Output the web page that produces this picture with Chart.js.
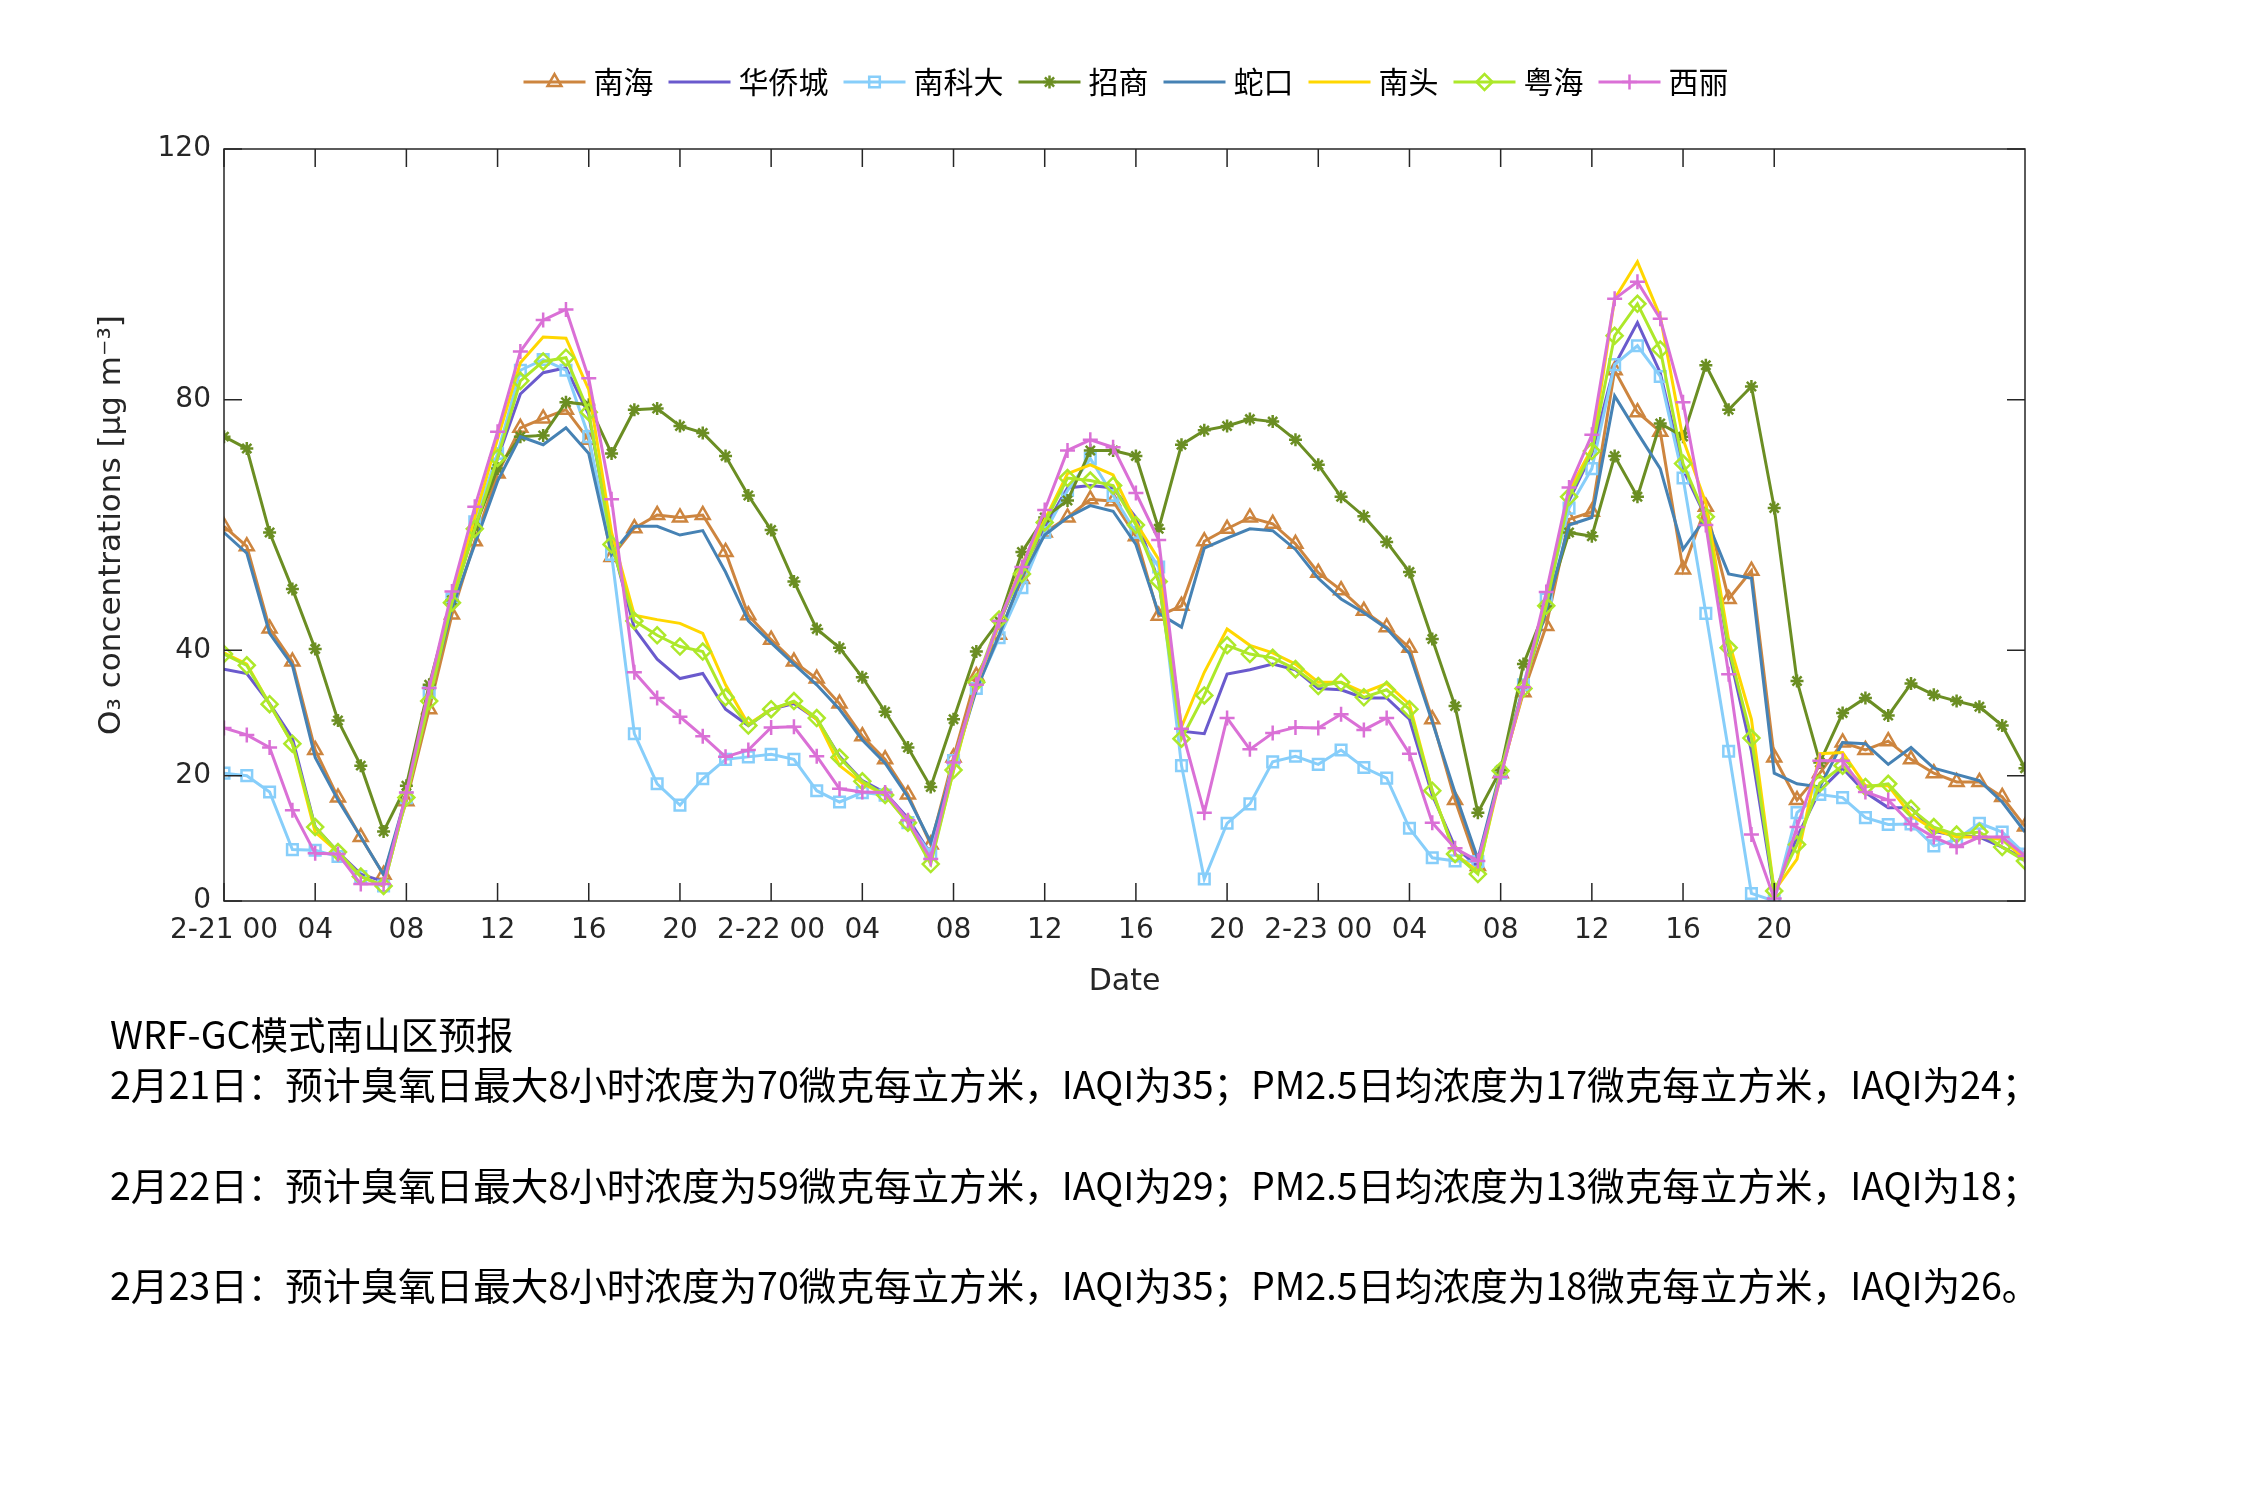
<!DOCTYPE html>
<html>
<head>
<meta charset="utf-8">
<script src="https://cdn.jsdelivr.net/npm/chart.js@4.4.1/dist/chart.umd.min.js"></script>
<style>
  body { margin: 0; background: #fff; }
  #wrap { position: relative; width: 2250px; height: 1500px; }
  #notes div {
    position: absolute; left: 110px; white-space: nowrap;
    font-family: "Noto Sans CJK SC", sans-serif; font-size: 37.6px; line-height: 42px; color: #000;
  }
</style>
</head>
<body>
<div id="wrap">
  <canvas id="o3Chart" width="2250" height="1500"></canvas>
  <div id="notes">
    <div style="top:1012px">WRF-GC模式南山区预报</div>
    <div style="top:1062px">2月21日：预计臭氧日最大8小时浓度为70微克每立方米，IAQI为35；PM2.5日均浓度为17微克每立方米，IAQI为24；</div>
    <div style="top:1163px">2月22日：预计臭氧日最大8小时浓度为59微克每立方米，IAQI为29；PM2.5日均浓度为13微克每立方米，IAQI为18；</div>
    <div style="top:1263px">2月23日：预计臭氧日最大8小时浓度为70微克每立方米，IAQI为35；PM2.5日均浓度为18微克每立方米，IAQI为26。</div>
  </div>
</div>
<script>
// 逐小时预报, 从 2-21 00 开始 (共80小时)
const hours = Array.from({length: 80}, (_, i) => i);

const nanhai = [59.8, 56.6, 43.5, 38.2, 24.1, 16.5, 10.2, 4.2, 15.9, 30.6, 45.7, 57.4, 68.2, 75.5,
  77, 78.4, 73.6, 54.9, 59.5, 61.6, 61.2, 61.6, 55.7, 45.6, 41.7, 38.2, 35.5, 31.5,
  26.3, 22.6, 17, 9, 22.9, 35.9, 42.5, 51.4, 58.8, 61.2, 64.1, 63.8, 58.2,
  45.5, 47.1, 57.4, 59.4, 61.2, 60.2, 57, 52.4, 49.6, 46.3, 43.7, 40.4, 29, 16.1,
  5.6, 20.4, 33.3, 43.9, 60.9, 62.1, 84.7, 78, 74.9, 52.9, 62.9, 48.2, 52.7, 22.9,
  16.1, 20.4, 25.3, 24.1, 25.5, 22.6, 20.4, 19, 19, 16.6, 11.9];
const huaqiaocheng = [37, 36.3, 31.5, 26, 11.8, 7.8, 4.3, 3.1, 16.9, 33.3, 47.8, 59.6, 70.6, 80.9,
  84.3, 85.1, 77.6, 57.3, 43.5, 38.6, 35.5, 36.3, 30.6, 28, 30.6, 31.5, 29, 23.1,
  19.2, 17.3, 13.2, 7.5, 22, 34.5, 44.3, 52.9, 59.6, 65.9, 66.3, 65.9, 61.2,
  51, 27.1, 26.7, 36.2, 36.9, 37.8, 36.9, 33.9, 33.7, 32.4, 32.4, 29, 16.9, 8.6,
  5.5, 20.4, 34.1, 47.8, 63.9, 71.4, 85.5, 92.3, 84.3, 68.9, 61.2, 40, 23.9, 1.2,
  10.2, 17.6, 21.2, 17.3, 14.9, 14.9, 11.1, 10.4, 10.2, 8.6, 6.7];
const nankeda = [20.4, 20, 17.4, 8.2, 8.1, 7.1, 3.9, 2.4, 16.5, 33.3, 48.2, 60.5, 71.4, 84.7,
  86.4, 84.7, 74.1, 55.3, 26.7, 18.7, 15.3, 19.5, 22.6, 23, 23.4, 22.6, 17.6, 15.8,
  17.3, 16.9, 12.5, 7.5, 22.4, 33.9, 42, 50, 58.8, 65.5, 70.6, 64.7, 58.8,
  53.3, 21.6, 3.5, 12.4, 15.5, 22.2, 23.1, 21.8, 24.1, 21.3, 19.6, 11.6, 6.9, 6.4,
  6.3, 20.4, 34.5, 48.2, 62.7, 69, 85.6, 88.6, 83.7, 67.5, 45.9, 23.9, 1.2, 0,
  14.1, 17, 16.5, 13.3, 12.2, 12.3, 8.8, 9.8, 12.4, 11, 7.5];
const zhaoshang = [74.1, 72.2, 58.8, 49.8, 40.2, 28.8, 21.6, 11.1, 18.4, 34.5, 48, 59.6, 69, 74.1,
  74.3, 79.6, 79.2, 71.4, 78.4, 78.6, 75.8, 74.7, 71, 64.7, 59.2, 51, 43.4, 40.4,
  35.7, 30.2, 24.5, 18.2, 29, 39.8, 44.7, 55.7, 61.2, 63.9, 71.9, 71.9, 71,
  59.4, 72.8, 75.1, 75.8, 76.9, 76.5, 73.6, 69.6, 64.5, 61.4, 57.3, 52.5, 41.8, 31.1,
  14.1, 20.9, 37.8, 47, 58.8, 58.2, 71, 64.5, 76.2, 74.1, 85.5, 78.4, 82.1, 62.7,
  35.1, 22.1, 30, 32.4, 29.6, 34.7, 32.9, 31.9, 31, 28, 21.2];
const shekou = [58.8, 55.5, 42.7, 37.6, 22.9, 16.1, 10.2, 4.2, 16.9, 32.5, 46.7, 56.9, 67, 74.1,
  72.8, 75.5, 71.4, 55.3, 59.8, 59.8, 58.4, 59.1, 52.5, 44.7, 41.2, 37.8, 34.5, 30.6,
  25.7, 22, 16.6, 9.4, 21.6, 33.7, 42.4, 51.8, 58.4, 61.2, 63.1, 62.2, 56.9,
  45.9, 43.7, 56.3, 57.9, 59.4, 59.1, 56.1, 51.5, 48.2, 46, 43.5, 39.5, 28.6, 17.3,
  6.7, 20.8, 34.1, 46.4, 60, 61.2, 80.6, 74.7, 69, 56.1, 61.2, 52.2, 51.5, 20.4,
  18.7, 18.2, 25.3, 25.1, 21.8, 24.5, 21.2, 20.2, 19.2, 15.8, 11];
const nantou = [39.6, 37.8, 31.4, 25.1, 11, 7.8, 3.9, 2.4, 16.5, 32.5, 48.2, 61.2, 73.7, 85.9,
  90, 89.8, 81.6, 58.8, 45.6, 44.9, 44.3, 42.7, 34.5, 28.2, 30.6, 31.8, 29, 21.6,
  18.8, 16.9, 12.5, 6.3, 20.8, 34.5, 44.3, 53.7, 60.8, 68.2, 69.6, 68, 60.4,
  54.5, 27.8, 36.5, 43.4, 40.8, 39.6, 37.8, 34.9, 34.9, 33.3, 34.7, 31.4, 17.6, 7.5,
  4.7, 20, 33.7, 47.5, 65.5, 72.2, 96.1, 102, 93.3, 73.7, 63.5, 41.6, 29, 1.6,
  6.7, 23.5, 23.7, 18.4, 18.4, 13.7, 11.4, 10.2, 10.2, 9.8, 6.7];
const yuehai = [39.4, 37.6, 31.4, 25.1, 11.8, 7.8, 3.9, 2.4, 16.5, 31.9, 47.6, 59.4, 70.7, 83,
  86.1, 86.7, 78, 56.9, 44.7, 42.4, 40.6, 39.8, 32.5, 28, 30.6, 31.9, 29.2, 22.9,
  19.1, 16.9, 12.5, 5.9, 20.9, 34.9, 44.9, 52.2, 60.4, 67.5, 67.1, 66.3, 60,
  51, 25.9, 32.8, 40.8, 39.4, 38.8, 37, 34.3, 34.9, 32.5, 33.7, 30.6, 17.6, 7.5,
  4.3, 20.8, 33.9, 47.1, 64.5, 71.8, 90.2, 95.3, 88, 69.8, 61.3, 40.4, 26, 1.6,
  9, 18.8, 21.6, 18.2, 18.7, 14.7, 11.8, 10.6, 11, 8.6, 6.4];
const xili = [27.6, 26.5, 24.5, 14.5, 7.6, 7.5, 2.7, 2.7, 17.3, 34, 49.4, 62.9, 74.9, 87.7,
  92.7, 94.4, 83.4, 64.1, 36.5, 32.4, 29.4, 26.3, 23, 24.1, 27.7, 27.8, 23.1, 17.9,
  17.4, 17.3, 12.9, 6.7, 22.1, 34.5, 44.7, 53.3, 62.4, 71.9, 73.6, 72.4, 65.1,
  57.6, 27.5, 14.1, 29.2, 24.2, 26.8, 27.7, 27.6, 29.8, 27.3, 29.2, 23.5, 12.5, 8.4,
  6.4, 19.8, 34.1, 49.3, 66, 74.4, 96.1, 98.8, 92.9, 79.6, 60, 36.2, 10.6, 0.4,
  11.8, 22.4, 22.4, 17.4, 16.1, 12.3, 10.2, 8.6, 10.2, 10.2, 7.2];

const xTickHours = [0, 4, 8, 12, 16, 20, 24, 28, 32, 36, 40, 44, 48, 52, 56, 60, 64, 68];
const xTickLabels = ['2-21 00', '04', '08', '12', '16', '20', '2-22 00', '04', '08', '12', '16', '20',
  '2-23 00', '04', '08', '12', '16', '20'];
const yTickValues = [0, 20, 40, 80, 120];

const axisColor = '#262626';
const baseFont = '"DejaVu Sans", "Noto Sans CJK SC", sans-serif';

function makeSeries(label, values, color, style, radius, order) {
    return {
        label: label,
        data: values.map((v, i) => ({x: hours[i], y: v})),
        borderColor: color,
        backgroundColor: 'rgba(0,0,0,0)',
        borderWidth: 3,
        pointStyle: style || 'circle',
        pointRadius: style ? radius : 0,
        pointBorderWidth: 2.5,
        pointBackgroundColor: 'rgba(0,0,0,0)',
        pointBorderColor: color,
        tension: 0,
        order: order
    };
}

// legenda desenhada à mão, no estilo do MATLAB
const legendPlugin = {
    id: 'topLegend',
    afterDraw(chart) {
        const ctx = chart.ctx;
        ctx.save();
        ctx.font = '30px "Noto Sans CJK SC"';
        ctx.textBaseline = 'middle';
        const lineLen = 62, gapText = 8, gapItem = 15, y = 82;
        const sets = chart.data.datasets;
        const widths = sets.map(ds => ctx.measureText(ds.label).width);
        let total = 0;
        widths.forEach(w => { total += lineLen + gapText + w + gapItem; });
        total -= gapItem;
        let x = 1126 - total / 2;
        sets.forEach((ds, i) => {
            ctx.strokeStyle = ds.borderColor;
            ctx.lineWidth = 3;
            ctx.beginPath();
            ctx.moveTo(x, y);
            ctx.lineTo(x + lineLen, y);
            ctx.stroke();
            if (ds.pointRadius > 0) {
                ctx.fillStyle = 'rgba(0,0,0,0)';
                ctx.lineWidth = ds.pointBorderWidth;
                Chart.helpers.drawPoint(ctx, {
                    pointStyle: ds.pointStyle, rotation: 0,
                    radius: ds.pointRadius, borderWidth: ds.pointBorderWidth
                }, x + lineLen / 2, y);
            }
            ctx.fillStyle = '#000';
            ctx.fillText(ds.label, x + lineLen + gapText, y);
            x += lineLen + gapText + widths[i] + gapItem;
        });
        ctx.restore();
    }
};

// caixa dos eixos com marcas para dentro
const boxPlugin = {
    id: 'boxTicks',
    afterDraw(chart) {
        const ctx = chart.ctx;
        const a = chart.chartArea;
        const xs = chart.scales.x, ys = chart.scales.y;
        const len = 18;
        ctx.save();
        ctx.strokeStyle = axisColor;
        ctx.lineWidth = 1.5;
        ctx.strokeRect(a.left, a.top, a.right - a.left, a.bottom - a.top);
        ctx.beginPath();
        xTickHours.forEach(v => {
            const px = xs.getPixelForValue(v);
            ctx.moveTo(px, a.bottom); ctx.lineTo(px, a.bottom - len);
            ctx.moveTo(px, a.top); ctx.lineTo(px, a.top + len);
        });
        yTickValues.forEach(v => {
            const py = ys.getPixelForValue(v);
            ctx.moveTo(a.left, py); ctx.lineTo(a.left + len, py);
            ctx.moveTo(a.right, py); ctx.lineTo(a.right - len, py);
        });
        ctx.stroke();
        ctx.restore();
    }
};

document.addEventListener('DOMContentLoaded', function() {
    const ctx = document.getElementById('o3Chart');
    new Chart(ctx.getContext('2d'), {
        type: 'line',
        data: {
            datasets: [
                makeSeries('南海', nanhai, '#CD853F', 'triangle', 8, 8),
                makeSeries('华侨城', huaqiaocheng, '#6A5ACD', null, 0, 7),
                makeSeries('南科大', nankeda, '#87CEFA', 'rect', 7.5, 6),
                makeSeries('招商', zhaoshang, '#6B8E23', 'star', 6.5, 5),
                makeSeries('蛇口', shekou, '#4682B4', null, 0, 4),
                makeSeries('南头', nantou, '#FFD700', null, 0, 3),
                makeSeries('粤海', yuehai, '#ADE82A', 'rectRot', 8, 2),
                makeSeries('西丽', xili, '#DA70D6', 'cross', 7.5, 1)
            ]
        },
        options: {
            responsive: false,
            animation: false,
            layout: { padding: { left: 93, right: 225, top: 149, bottom: 500 } },
            plugins: {
                legend: { display: false },
                tooltip: { enabled: false }
            },
            scales: {
                x: {
                    type: 'linear',
                    min: 0,
                    max: 79,
                    grid: { display: false, drawTicks: false },
                    border: { display: false },
                    afterBuildTicks: function(scale) {
                        scale.ticks = xTickHours.map(v => ({value: v}));
                    },
                    afterFit: function(scale) { scale.height = 99; },
                    ticks: {
                        autoSkip: false,
                        maxRotation: 0,
                        padding: 13,
                        color: axisColor,
                        font: { family: baseFont, size: 28 },
                        callback: function(value) {
                            const i = xTickHours.indexOf(value);
                            return i >= 0 ? xTickLabels[i] : '';
                        }
                    },
                    title: {
                        display: true,
                        text: 'Date',
                        color: axisColor,
                        font: { family: baseFont, size: 30 },
                        padding: { top: 0, bottom: 0 }
                    }
                },
                y: {
                    min: 0,
                    max: 120,
                    grid: { display: false, drawTicks: false },
                    border: { display: false },
                    afterBuildTicks: function(scale) {
                        scale.ticks = yTickValues.map(v => ({value: v}));
                    },
                    afterFit: function(scale) { scale.width = 131; },
                    ticks: {
                        padding: 13,
                        color: axisColor,
                        font: { family: baseFont, size: 28 }
                    },
                    title: {
                        display: true,
                        text: 'O₃ concentrations [μg m⁻³]',
                        color: axisColor,
                        font: { family: baseFont, size: 31 },
                        padding: { top: 0, bottom: 0 }
                    }
                }
            }
        },
        plugins: [legendPlugin, boxPlugin]
    });
});
</script>
</body>
</html>
